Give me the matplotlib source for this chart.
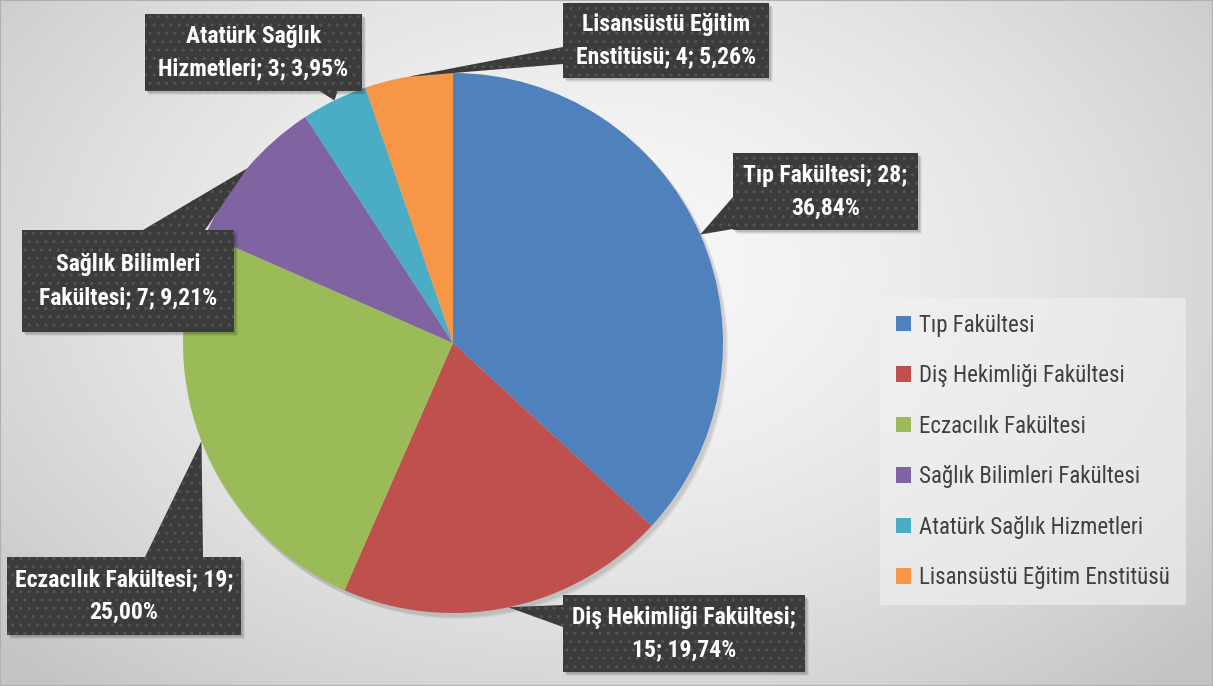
import numpy as np
import matplotlib
matplotlib.use('Agg')
import matplotlib.pyplot as plt
from matplotlib.patches import Polygon, Rectangle
from matplotlib import font_manager

# ---------------- data ----------------
categories = ['Tıp Fakültesi', 'Diş Hekimliği Fakültesi', 'Eczacılık Fakültesi',
              'Sağlık Bilimleri Fakültesi', 'Atatürk Sağlık Hizmetleri',
              'Lisansüstü Eğitim Enstitüsü']
values = [28, 15, 19, 7, 3, 4]
colors = ['#4f81bd', '#c0504d', '#9bbb59', '#8064a2', '#4bacc6', '#f79646']
wrap_words = [3, 3, 3, 2, 2, 2]   # words on first label line

# ---------------- layout (pixels, y from top) ----------------
W, H = 1213, 686
CX, CY, R = 453, 343, 270
boxes = [(733, 153, 918, 230), (563, 595, 805, 672), (7, 557, 241, 635),
         (22, 230, 234, 332), (145, 14, 362, 91), (563, 3, 769, 78)]
bases = [[(733, 197), (733, 229)], [(563, 605), (563, 627)], [(145, 557), (203, 557)],
         [(143, 230), (205, 230)], [(318, 90), (338, 90)], [(563, 47), (563, 64)]]

avail = {f.name for f in font_manager.fontManager.ttflist}
fam = [f for f in ['Liberation Sans Narrow', 'Roboto Condensed', 'DejaVu Sans'] if f in avail]
plt.rcParams['font.family'] = fam

fig = plt.figure(figsize=(W / 100, H / 100), dpi=100)

# background radial gradient
bg = fig.add_axes([0, 0, 1, 1])
yy, xx = np.mgrid[0:H, 0:W]
d = np.sqrt(((xx - 600) / 820.0) ** 2 + ((yy - 270) / 560.0) ** 2)
d = np.clip(d, 0, 1)
val = 0.97 - 0.20 * d ** 1.6
bg.imshow(np.dstack([val, val, val]), extent=[0, W, 0, H], origin='upper', aspect='auto')
bg.set_xlim(0, W)
bg.set_ylim(0, H)
bg.axis('off')

ax = fig.add_axes([0, 0, 1, 1], facecolor='none')


def P(x, y):
    return (x, H - y)


# pie shadow
for k, a in enumerate([0.05, 0.05, 0.05]):
    ax.add_patch(matplotlib.patches.Circle(P(CX + 2 + k, CY + 3 + k), R + 1, color='black', alpha=a, lw=0, zorder=1))

wedges, _ = ax.pie(values, colors=colors, startangle=90, counterclock=False,
                   center=(CX, H - CY), radius=R,
                   wedgeprops=dict(linewidth=0, zorder=2))
for w in wedges:
    w.set_zorder(2)

total = sum(values)
for i, (cat, v) in enumerate(zip(categories, values)):
    pct = f"{v / total * 100:.2f}".replace('.', ',') + '%'
    words = f"{cat}; {v}; {pct}".split(' ')
    text = ' '.join(words[:wrap_words[i]]) + '\n' + ' '.join(words[wrap_words[i]:])
    w = wedges[i]
    mid = np.deg2rad((w.theta1 + w.theta2) / 2)
    tip = (CX + R * np.cos(mid), H - CY + R * np.sin(mid))
    x0, y0, x1, y1 = boxes[i]
    # shadow
    for k, a in enumerate([0.10, 0.08, 0.06]):
        ax.add_patch(Rectangle((x0 + 2 + k, H - y1 - 2 - k), x1 - x0, y1 - y0,
                               facecolor='black', alpha=a, lw=0, zorder=3))
    tri = [P(*bases[i][0]), tip, P(*bases[i][1])]
    for poly in [Polygon(tri, closed=True), Rectangle((x0, H - y1), x1 - x0, y1 - y0)]:
        poly.set_facecolor('#3b3b3b')
        poly.set_edgecolor('none')
        poly.set_linewidth(0)
        poly.set_zorder(4)
        ax.add_patch(poly)
    for poly in [Polygon(tri, closed=True), Rectangle((x0, H - y1), x1 - x0, y1 - y0)]:
        poly.set_facecolor('none')
        poly.set_edgecolor('#555555')
        poly.set_hatch('..')
        poly.set_linewidth(0)
        poly.set_zorder(4.5)
        ax.add_patch(poly)
    ax.text((x0 + x1) / 2, H - (y0 + y1) / 2, text, ha='center', va='center',
            color='white', fontsize=17, fontweight='bold', linespacing=1.55, zorder=6)

ax.set_xlim(0, W)
ax.set_ylim(0, H)
ax.set_aspect('auto')
ax.axis('off')

leg = ax.legend(wedges, categories, loc='upper left',
                bbox_to_anchor=(880 / W, 1 - 298 / H), bbox_transform=fig.transFigure,
                fontsize=16.5, frameon=True, fancybox=False, borderaxespad=0,
                labelspacing=1.2, handlelength=0.68, handleheight=0.68,
                handletextpad=0.35, borderpad=0.68)
leg.get_frame().set_facecolor('#f2f2f2')
leg.get_frame().set_alpha(0.6)
leg.get_frame().set_edgecolor('none')
for t in leg.get_texts():
    t.set_color('#404040')

fig.patches.append(Rectangle((0, 0), 1, 1, transform=fig.transFigure, fill=False,
                             edgecolor='#b0b0b0', lw=1.5))

fig.savefig('out.png', dpi=100)
